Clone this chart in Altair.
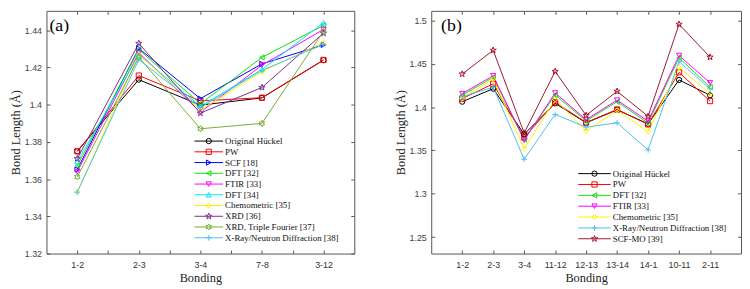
import math
import json
import altair as alt
import pandas as pd

# ---------------- data: panel (a) ----------------
cats_a = ["1-2", "2-3", "3-4", "7-8", "3-12"]
series_a = ["Original Hückel", "PW", "SCF [18]", "DFT [32]", "FTIR [33]", "DFT [34]",
            "Chemometric [35]", "XRD [36]", "XRD, Triple Fourier [37]",
            "X-Ray/Neutron Diffraction [38]"]
huckel_a = [1.3750, 1.4135, 1.3998, 1.4037, 1.4240]
pw_a = [1.3750, 1.4157, 1.4021, 1.4038, 1.4241]
scf18_a = [1.3652, 1.4303, 1.4033, 1.4220, 1.4322]
dft32_a = [1.3672, 1.4297, 1.4005, 1.4255, 1.4427]
ftir33_a = [1.3640, 1.4280, 1.3960, 1.4213, 1.4405]
dft34_a = [1.3695, 1.4268, 1.3992, 1.4190, 1.4441]
chem35_a = [1.3530, 1.4270, 1.3972, 1.4178, 1.4336]
xrd36_a = [1.3710, 1.4330, 1.3955, 1.4093, 1.4385]
xrd37_a = [1.3612, 1.4255, 1.3871, 1.3900, 1.4395]
xray38_a = [1.3530, 1.4243, 1.3985, 1.4185, 1.4325]
values_a = [huckel_a, pw_a, scf18_a, dft32_a, ftir33_a, dft34_a, chem35_a,
            xrd36_a, xrd37_a, xray38_a]

# ---------------- data: panel (b) ----------------
cats_b = ["1-2", "2-3", "3-4", "11-12", "12-13", "13-14", "14-1", "10-11", "2-11"]
series_b = ["Original Hückel", "PW", "DFT [32]", "FTIR [33]", "Chemometric [35]",
            "X-Ray/Neutron Diffraction [38]", "SCF-MO [39]"]
huckel_b = [1.4062, 1.4212, 1.3686, 1.4043, 1.3818, 1.3968, 1.3806, 1.4313, 1.4136]
pw_b = [1.4098, 1.4268, 1.3649, 1.4055, 1.3822, 1.3972, 1.3800, 1.4400, 1.4069]
dft32_b = [1.4137, 1.4343, 1.3625, 1.4140, 1.3840, 1.4062, 1.3815, 1.4569, 1.4231]
ftir33_b = [1.4155, 1.4362, 1.3618, 1.4163, 1.3855, 1.4080, 1.3837, 1.4595, 1.4279]
chem35_b = [1.4100, 1.4324, 1.3520, 1.4088, 1.3724, 1.3962, 1.3716, 1.4456, 1.4155]
xray38_b = [1.4120, 1.4230, 1.3398, 1.3915, 1.3769, 1.3818, 1.3506, 1.4525, 1.4210]
scfmo39_b = [1.4381, 1.4655, 1.3700, 1.4411, 1.3904, 1.4182, 1.3893, 1.4955, 1.4576]
values_b = [huckel_b, pw_b, dft32_b, ftir33_b, chem35_b, xray38_b, scfmo39_b]

# ---------------- styles ----------------
def star_path(n, r_out, r_in):
    pts = []
    for k in range(2 * n):
        r = r_out if k % 2 == 0 else r_in
        a = -math.pi / 2 + k * math.pi / n
        pts.append(f"{r * math.cos(a):.3f},{r * math.sin(a):.3f}")
    return "M" + "L".join(pts) + "Z"

STAR = star_path(5, 1.25, 0.5)
HEXA = star_path(6, 1.15, 0.66)
PLUS = "M-1.1,0L1.1,0M0,-1.1L0,1.1"

style = {
    "Original Hückel": ("#000000", "circle"),
    "PW": ("#FF0000", "square"),
    "SCF [18]": ("#0000FF", "triangle-right"),
    "DFT [32]": ("#10DD10", "triangle-left"),
    "FTIR [33]": ("#FF00FF", "triangle-down"),
    "DFT [34]": ("#00E8F0", "triangle-up"),
    "Chemometric [35]": ("#FFF000", "diamond"),
    "XRD [36]": ("#7E2F8E", STAR),
    "XRD, Triple Fourier [37]": ("#77AC30", HEXA),
    "X-Ray/Neutron Diffraction [38]": ("#4DBEEE", PLUS),
    "SCF-MO [39]": ("#A2142F", STAR),
}

H = 246
W_A = 312
W_B = 314
TICK = 3.5
SERIF = "Liberation Serif"
SANS = "Liberation Sans"


def make_panel(cats, series, values, width, xdom, ydom, yticks, xticks, label,
               label_x, leg_x, leg_y, leg_font):
    rows = []
    for s, vals in zip(series, values):
        for i, v in enumerate(vals):
            rows.append({"series": s, "pos": i + 1, "value": v})
    df = pd.DataFrame(rows)
    colors = [style[s][0] for s in series]
    shapes = [style[s][1] for s in series]
    color_enc = alt.Color("series:N", scale=alt.Scale(domain=series, range=colors), legend=None)
    shape_enc = alt.Shape("series:N", scale=alt.Scale(domain=series, range=shapes), legend=None)

    lab_list = json.dumps([""] + cats)
    x_axis = alt.Axis(
        values=xticks, title="Bonding", domain=False, ticks=False,
        labelExpr=f"datum.value % 1 ? '' : {lab_list}[round(datum.value)]",
        labelFont=SANS, labelFontSize=9, labelColor="#333333", labelPadding=7,
        titleFont=SERIF, titleFontSize=12.5, titleFontWeight="normal", titleColor="#222222",
        titlePadding=2,
        grid=True, gridColor="#555555", gridWidth=1, gridOpacity=1,
        gridDash=[TICK, H - 2 * TICK, TICK, 2000],
        labelOverlap=False, labelBound=False, labelFlush=False,
    )
    y_axis = alt.Axis(
        values=yticks, title="Bond Length (Å)", domain=False, ticks=False, format=".2~f",
        labelFont=SANS, labelFontSize=9, labelColor="#444444", labelPadding=5,
        titleFont=SERIF, titleFontSize=12.5, titleFontWeight="normal", titleColor="#222222",
        titlePadding=2,
        grid=True, gridColor="#555555", gridWidth=1, gridOpacity=1,
        gridDash=[TICK, width - 2 * TICK, TICK, 2000],
        labelOverlap=False, labelFlush=False,
    )
    x_enc = alt.X("pos:Q", scale=alt.Scale(domain=xdom, nice=False, zero=False), axis=x_axis)
    y_enc = alt.Y("value:Q", scale=alt.Scale(domain=ydom, nice=False, zero=False), axis=y_axis)

    base = alt.Chart(df)
    lines = base.mark_line(strokeWidth=1).encode(x=x_enc, y=y_enc, color=color_enc, detail="series:N")
    pts = base.mark_point(filled=False, size=28, strokeWidth=1, opacity=1).encode(
        x=x_enc, y=y_enc, color=color_enc, shape=shape_enc)
    main = alt.layer(lines, pts)

    # legend
    ldf = pd.DataFrame({"series": series, "idx": list(range(len(series)))})
    ly = alt.Y("idx:Q", scale=alt.Scale(domain=[0, len(series) - 1], range=list(leg_y)), axis=None)
    lbase = alt.Chart(ldf)
    lrule = lbase.mark_rule(strokeWidth=1).encode(
        x=alt.value(leg_x[0]), x2=alt.value(leg_x[1]), y=ly, color=color_enc)
    lpt = lbase.mark_point(filled=False, size=28, strokeWidth=1, opacity=1).encode(
        x=alt.value((leg_x[0] + leg_x[1]) / 2), y=ly, color=color_enc, shape=shape_enc)
    ltext = lbase.mark_text(align="left", baseline="middle", font=SERIF, fontSize=leg_font,
                            color="#111111").encode(
        x=alt.value(leg_x[1] + 2), y=ly, text="series:N")
    legend = alt.layer(lrule, lpt, ltext)

    tag = alt.Chart(pd.DataFrame({"t": [label]})).mark_text(
        align="left", baseline="top", font=SERIF, fontSize=18, color="#000000"
    ).encode(x=alt.value(label_x), y=alt.value(6), text="t:N")

    return alt.layer(main, legend, tag).resolve_scale(y="independent").properties(
        width=width, height=H)


panel_a = make_panel(
    cats_a, series_a, values_a, W_A, [0.5, 5.5], [1.32, 1.4505],
    [1.32, 1.34, 1.36, 1.38, 1.40, 1.42, 1.44],
    [1, 1.5, 2, 2.5, 3, 3.5, 4, 4.5, 5], "(a)", 3, (150, 179), (132, 230), 9)

panel_b = make_panel(
    cats_b, series_b, values_b, W_B, [0, 10], [1.231, 1.511],
    [1.25, 1.30, 1.35, 1.40, 1.45, 1.50],
    [1, 2, 3, 4, 5, 6, 7, 8, 9], "(b)", 10, (149, 182), (165, 231), 9)

chart = alt.hconcat(panel_a, panel_b, spacing=38).resolve_scale(
    color="independent", shape="independent"
).properties(padding=0, background="white").configure_view(
    stroke="#555555", strokeWidth=1)

chart.save("out.html", embed_options={"renderer": "svg", "actions": False})
